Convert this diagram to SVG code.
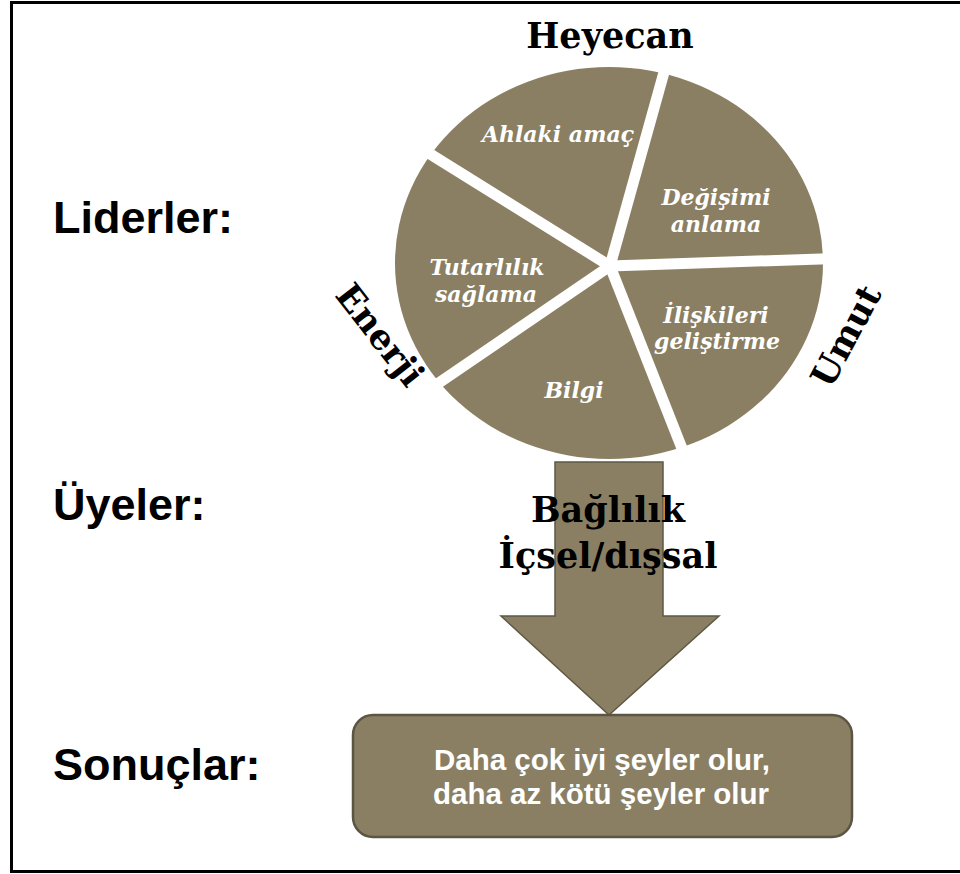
<svg xmlns="http://www.w3.org/2000/svg" width="960" height="874" viewBox="0 0 960 874">
  <style>
    .side { font-family: "Liberation Sans", Arial, sans-serif; font-weight: bold; font-size: 45px; fill: #000; }
    .ring { font-family: "DejaVu Serif", "Liberation Serif", serif; font-weight: bold; font-size: 35px; fill: #000; text-anchor: middle; }
    .slice { font-family: "DejaVu Serif", "Liberation Serif", serif; font-weight: bold; font-style: italic; font-size: 22px; fill: #ffffff; text-anchor: middle; }
    .gap { stroke: #ffffff; stroke-width: 11; stroke-linecap: butt; }
    .shape { fill: #8a7f63; }
    .boxtxt { font-family: "Liberation Sans", Arial, sans-serif; font-weight: bold; font-size: 29.5px; fill: #ffffff; text-anchor: middle; }
  </style>

  <rect width="960" height="874" fill="#ffffff"/>
  <!-- outer frame (open on the right edge) -->
  <rect x="11.5" y="2.5" width="970" height="869" fill="none" stroke="#000" stroke-width="3"/>

  <!-- row labels -->
  <g id="row-labels">
    <text class="side" x="53" y="233">Liderler:</text>
    <text class="side" x="53" y="520">Üyeler:</text>
    <text class="side" x="53" y="780">Sonuçlar:</text>
  </g>

  <!-- leadership wheel -->
  <g id="wheel">
    <ellipse class="shape" cx="609" cy="263" rx="214" ry="196"/>
    <g id="wheel-gaps">
      <line class="gap" x1="610" y1="266" x2="673" y2="40"/>
      <line class="gap" x1="610" y1="266" x2="850" y2="258"/>
      <line class="gap" x1="610" y1="266" x2="700" y2="494"/>
      <line class="gap" x1="610" y1="266" x2="405" y2="406"/>
      <line class="gap" x1="610" y1="266" x2="398" y2="134"/>
    </g>
    <g id="slice-ahlaki"><text class="slice" x="558" y="142">Ahlaki amaç</text></g>
    <g id="slice-degisimi"><text class="slice" x="716" y="205">Değişimi</text><text class="slice" x="716" y="232">anlama</text></g>
    <g id="slice-tutarlilik"><text class="slice" x="487" y="275">Tutarlılık</text><text class="slice" x="486" y="302">sağlama</text></g>
    <g id="slice-iliskiler"><text class="slice" x="716" y="323">İlişkileri</text><text class="slice" x="717" y="349">geliştirme</text></g>
    <g id="slice-bilgi"><text class="slice" x="574" y="398">Bilgi</text></g>
  </g>

  <!-- words around the wheel -->
  <g id="ring-words">
    <text class="ring" x="610" y="48" font-size="36">Heyecan</text>
    <text class="ring" transform="translate(380 335) rotate(52)" x="0" y="12">Enerji</text>
    <text class="ring" transform="translate(846 336) rotate(-62)" x="0" y="12">Umut</text>
  </g>

  <!-- connectors -->
  <g id="connectors">
    <path class="shape" d="M555 462 H663 V616 H719 L609 715 L501 616 H555 Z" stroke="#5e5844" stroke-width="1.5" stroke-linejoin="miter"/>
  </g>

  <g id="members">
    <text class="ring" x="608" y="522">Bağlılık</text>
    <text class="ring" x="608" y="568">İçsel/dışsal</text>
  </g>

  <!-- outcome box -->
  <g id="outcome">
    <rect class="shape" x="353" y="715" width="499" height="122" rx="20" ry="20" stroke="#5b5543" stroke-width="2.5"/>
    <text class="boxtxt" x="602" y="770">Daha çok iyi şeyler olur,</text>
    <text class="boxtxt" x="601" y="804">daha az kötü şeyler olur</text>
  </g>
</svg>
